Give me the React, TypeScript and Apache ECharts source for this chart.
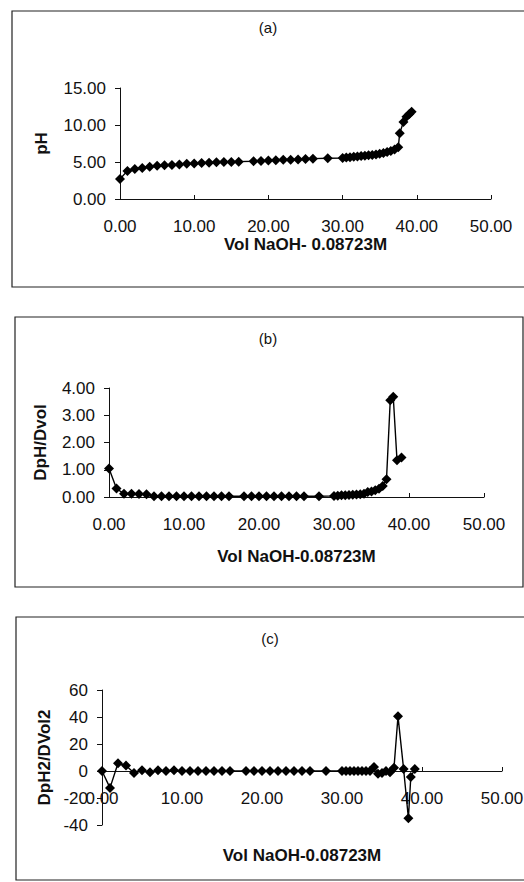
import React, { useEffect, useRef } from "react";
import * as echarts from "echarts";

// Panel (a): titration curve
const volA = [0, 1, 2, 3, 4, 5, 6, 7, 8, 9, 10, 11, 12, 13, 14, 15, 16, 18, 19, 20, 21, 22, 23, 24, 25, 26, 28, 30, 30.5, 31, 31.5, 32, 32.5, 33, 33.5, 34, 34.5, 35, 35.5, 36, 36.5, 37, 37.5, 37.7, 38.2, 38.6, 39.0, 39.3];
const pH = [2.7, 3.8, 4.05, 4.2, 4.35, 4.5, 4.55, 4.6, 4.65, 4.75, 4.8, 4.85, 4.9, 4.95, 5.0, 5.0, 5.05, 5.1, 5.15, 5.2, 5.25, 5.3, 5.3, 5.35, 5.4, 5.45, 5.5, 5.55, 5.6, 5.65, 5.7, 5.75, 5.8, 5.85, 5.9, 5.95, 6.0, 6.1, 6.2, 6.35, 6.5, 6.7, 7.0, 8.9, 10.4, 11.1, 11.5, 11.8];

// Panel (b): first derivative
const volB = [0, 1, 2, 3, 4, 5, 6, 7, 8, 9, 10, 11, 12, 13, 14, 15, 16, 18, 19, 20, 21, 22, 23, 24, 25, 26, 28, 30, 30.5, 31, 31.5, 32, 32.5, 33, 33.5, 34, 34.5, 35, 35.5, 36, 36.5, 37, 37.5, 37.9, 38.4, 39.0];
const dpH = [1.05, 0.31, 0.12, 0.12, 0.11, 0.1, 0.03, 0.03, 0.03, 0.03, 0.03, 0.03, 0.03, 0.03, 0.03, 0.03, 0.03, 0.03, 0.03, 0.03, 0.03, 0.03, 0.03, 0.03, 0.03, 0.03, 0.03, 0.04, 0.05, 0.06, 0.06, 0.07, 0.08, 0.09, 0.1, 0.12, 0.18, 0.2, 0.25, 0.3, 0.4, 0.65, 3.55, 3.68, 1.35, 1.45];

// Panel (c): second derivative
const volC = [0, 1, 2, 3, 4, 5, 6, 7, 8, 9, 10, 11, 12, 13, 14, 15, 16, 18, 19, 20, 21, 22, 23, 24, 25, 26, 28, 30, 30.5, 31, 31.5, 32, 32.5, 33, 33.5, 34, 34.5, 35, 35.5, 36, 36.5, 37, 37.7, 38.3, 38.6, 39.1];
const d2pH = [0, -12.5, 5.8, 4, -1.5, 0.5, -1, 0.5, 0, 0.5, 0, 0, 0, 0, 0, 0, 0, 0, 0, 0, 0, 0, 0, 0, 0, 0, 0, 0, 0, 0, 0, 0, 0, 0, 0, 3, -2, -1.5, 0, -1, 2.5, 40.5, 1.5, -35, -4.5, 1.5];

const panelTitles = ["(a)", "(b)", "(c)"];
const xNames = ["Vol NaOH- 0.08723M", "Vol NaOH-0.08723M", "Vol NaOH-0.08723M"];
const yNames = ["pH", "DpH/Dvol", "DpH2/DVol2"];

const FONT = "Liberation Sans, Arial, sans-serif";

export default function App() {
  const ref = useRef<HTMLDivElement>(null);
  useEffect(() => {
    if (!ref.current) return;
    const chart = echarts.init(ref.current, null, { renderer: "svg" });

    const grids = [
      { left: 120, top: 88, width: 371, height: 111 },
      { left: 109, top: 388, width: 375, height: 109 },
      { left: 102, top: 690, width: 400, height: 135 },
    ];
    const xGaps = [31, 51, 76];
    const xOffsets = [0, 0, -54]; // panel (c): axis crosses at y = 0
    const yGaps = [70, 60, 48];
    const yCfg = [
      { min: 0, max: 15, interval: 5, fmt: (v: number) => v.toFixed(2) },
      { min: 0, max: 4, interval: 1, fmt: (v: number) => v.toFixed(2) },
      { min: -40, max: 60, interval: 20, fmt: (v: number) => String(v) },
    ];
    const xs = [volA, volB, volC];
    const ys = [pH, dpH, d2pH];

    const axisLine = { lineStyle: { color: "#111", width: 1 } };
    const labelStyle = { color: "#111", fontSize: 17, fontFamily: FONT };
    const nameStyle = { color: "#111", fontSize: 17, fontWeight: "bold" as const, fontFamily: FONT };

    chart.setOption({
      animation: false,
      backgroundColor: "#fff",
      grid: grids.map((g) => ({ ...g, containLabel: false, outerBoundsMode: "none" })),
      xAxis: grids.map((_, i) => ({
        type: "value",
        gridIndex: i,
        min: 0,
        max: 50,
        interval: 10,
        offset: xOffsets[i],
        name: xNames[i],
        nameLocation: "middle",
        nameGap: xGaps[i],
        nameTextStyle: nameStyle,
        axisLine: { ...axisLine, onZero: false },
        axisTick: { show: true, inside: true, length: 4, lineStyle: { color: "#111" } },
        axisLabel: { ...labelStyle, margin: 19, formatter: (v: number) => v.toFixed(2) },
        splitLine: { show: false },
      })),
      yAxis: grids.map((_, i) => ({
        type: "value",
        gridIndex: i,
        min: yCfg[i].min,
        max: yCfg[i].max,
        interval: yCfg[i].interval,
        name: yNames[i],
        nameLocation: "middle",
        nameRotate: 90,
        nameGap: yGaps[i],
        nameTextStyle: nameStyle,
        axisLine: { ...axisLine, show: true, onZero: false },
        axisTick: { show: true, inside: false, length: 5, lineStyle: { color: "#111" } },
        axisLabel: { ...labelStyle, margin: 14, formatter: yCfg[i].fmt },
        splitLine: { show: false },
      })),
      series: grids.map((_, i) => ({
        type: "line",
        xAxisIndex: i,
        yAxisIndex: i,
        data: xs[i].map((x, k) => [x, ys[i][k]]),
        symbol: "diamond",
        symbolSize: 10,
        itemStyle: { color: "#000" },
        lineStyle: { color: "#000", width: 1.4 },
      })),
      graphic: [
        { type: "rect", shape: { x: 12, y: 11, width: 540, height: 276 }, style: { fill: "none", stroke: "#222", lineWidth: 1.2 } },
        { type: "rect", shape: { x: 15, y: 317, width: 508, height: 270 }, style: { fill: "none", stroke: "#222", lineWidth: 1.2 } },
        { type: "rect", shape: { x: 16, y: 617, width: 540, height: 263 }, style: { fill: "none", stroke: "#222", lineWidth: 1.2 } },
        ...[
          [268, 27],
          [268, 338],
          [270, 638],
        ].map(([x, y], i) => ({
          type: "text",
          x,
          y,
          style: {
            text: panelTitles[i],
            fill: "#111",
            fontSize: 15,
            fontFamily: FONT,
            align: "center",
            verticalAlign: "middle",
          },
        })),
      ],
    });
    return () => chart.dispose();
  }, []);
  return (
    <div
      ref={ref}
      style={{ position: "absolute", left: 0, top: 0, width: 524, height: 882, background: "#fff" }}
    />
  );
}
